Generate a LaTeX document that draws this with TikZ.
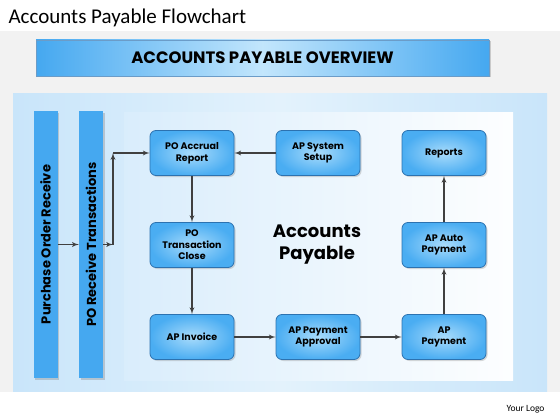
\documentclass[tikz,border=0pt]{standalone}
\usepackage{fontspec}
\setmainfont{Carlito}
\newfontfamily\geofont{Poppins}
\usetikzlibrary{positioning, arrows, shadows}
\definecolor{boxblue}{HTML}{4AADF2}
\definecolor{boxlight}{HTML}{A8DBFB}
\definecolor{boxedge}{HTML}{2C72B0}
\definecolor{barblue}{HTML}{45A8F0}
\definecolor{arrowgray}{HTML}{404040}
\definecolor{panelblue}{HTML}{C9E5FA}
\definecolor{panellight}{HTML}{E3F2FC}
\definecolor{bandgray}{HTML}{F2F2F2}
\tikzset{
  >=latex',
  node distance=126pt,
  box/.style={draw=boxedge, line width=0.8pt, rounded corners=6pt,
    shading=radial, inner color=boxlight, outer color=boxblue,
    minimum width=84pt, minimum height=45pt, align=center,
    font=\geofont\bfseries\fontsize{9.5}{11.5}\selectfont,
    drop shadow={shadow xshift=1.5pt, shadow yshift=-1.5pt, opacity=0.3}},
  bar/.style={fill=barblue, rotate=90, minimum width=267pt, minimum height=24pt,
    font=\geofont\bfseries\fontsize{13}{15}\selectfont,
    drop shadow={shadow xshift=1.5pt, shadow yshift=-1.5pt, opacity=0.35}},
  flow/.style={->, draw=arrowgray, line width=1.3pt},
}
\begin{document}
\begin{tikzpicture}[x=1pt, y=-1pt]
	\useasboundingbox (0,0) rectangle (560,420);
	% background
	\fill[white] (0,0) rectangle (560,420);
	\fill[bandgray] (0,31) rectangle (560,392);
	\shade[left color=panelblue, right color=panelblue, middle color=panellight] (13,94) rectangle (547,391);
	\shade[left color=panelblue!70, right color=white!96!panelblue] (124,112) rectangle (513,380);

	% title and header
	\node[anchor=base west, font=\fontsize{21}{24}\selectfont] (title) at (5,24) {Accounts Payable Flowchart};
	\node[anchor=base east, font=\fontsize{9.5}{11}\selectfont] (logo) at (548,411) {Your Logo};
	\node[draw=boxedge!70, left color=barblue, right color=barblue, middle color=boxlight!70!white,
	  minimum width=453pt, minimum height=36pt, font=\geofont\bfseries\fontsize{16.5}{18}\selectfont,
	  drop shadow={shadow xshift=1.5pt, shadow yshift=-1.5pt, opacity=0.35}] (head) at (262.5,58) {ACCOUNTS PAYABLE OVERVIEW};

	% receive bars
	\node[bar] (pur) at (45.5,244.5) {Purchase Order Receive};
	\node[bar] (pot) at (91,244.5) {PO Receive Transactions};

	% flow boxes
	\node[box] (accr) at (192,153) {PO Accrual\\Report};
	\node[box, right of=accr] (setup) {AP System\\Setup};
	\node[box, right of=setup] (rep) {Reports};
	\node[box, below of=accr, node distance=92pt] (close) {PO\\Transaction\\Close};
	\node[box, below of=rep, node distance=92pt] (auto) {AP Auto\\Payment};
	\node[box, below of=close, node distance=92pt] (inv) {AP Invoice};
	\node[box, right of=inv] (appr) {AP Payment\\Approval};
	\node[box, right of=appr] (pay) {AP\\Payment};
	\node[font=\geofont\bfseries\fontsize{18}{22}\selectfont, align=center] (ap) at (317,245) {Accounts\\Payable};

	% connectors
	\coordinate (jn) at (113,244.5);
	\coordinate (jt) at (113,153);
	\draw[flow] (pur) -- (pot);
	\draw[flow] (pot) -- (jn);
	\draw[flow] (jn) -- (jt);
	\draw[flow] (jt) -- (accr);
	\draw[flow] (setup) -- (accr);
	\draw[flow] (accr) -- (close);
	\draw[flow] (close) -- (inv);
	\draw[flow] (inv) -- (appr);
	\draw[flow] (appr) -- (pay);
	\draw[flow] (pay) -- (auto);
	\draw[flow] (auto) -- (rep);

\end{tikzpicture}
\end{document}
